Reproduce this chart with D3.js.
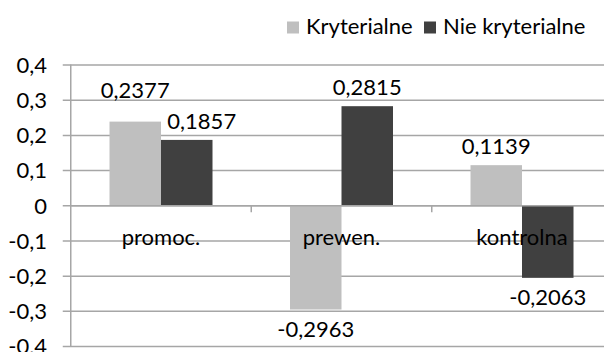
<!DOCTYPE html>
<html>
<head>
<meta charset="utf-8">
<script src="https://cdn.jsdelivr.net/npm/d3@7"></script>
<style>
  html, body { margin: 0; padding: 0; background: #fff; }
  svg { display: block; font-family: Lato, "Noto Sans", sans-serif; }
</style>
</head>
<body>
<svg id="chart" width="604" height="352"></svg>
<script>
// Groups along the category axis
const categories = ["promoc.", "prewen.", "kontrolna"];
// Series names and values (one value per category)
const seriesNames = ["Kryterialne", "Nie kryterialne"];
const kryterialne = [0.2377, -0.2963, 0.1139];
const nieKryterialne = [0.1857, 0.2815, -0.2063];
const yTicks = [-0.4, -0.3, -0.2, -0.1, 0, 0.1, 0.2, 0.3, 0.4];

const seriesValues = [kryterialne, nieKryterialne];
const colors = ["#bfbfbf", "#404040"];
const gridColor = "#a6a6a6";
const fontSize = 22;

// Hand-placed data labels (pixel nudges from the default outside-end spot)
const labelNudge = [
  [{ dx: 0, dy: -13 }, { dx: 15, dy: 0 }],
  [{ dx: 0, dy: 0 }, { dx: 0, dy: 0 }],
  [{ dx: 0, dy: 0 }, { dx: 0, dy: 0 }]
];

// Polish decimal comma, plain hyphen for negatives
const plain = s => s.replace("\u2212", "-").replace(".", ",");
const fmt = v => (v === 0 ? "0" : plain(d3.format(".4~f")(v)));
const fmtTick = v => (v === 0 ? "0" : plain(d3.format(".1f")(v)));

const svg = d3.select("#chart");
const plot = { left: 70.75, right: 612.25, top: 64.5, bottom: 346 };

const x0 = d3.scaleBand().domain(categories).range([plot.left, plot.right]).padding(0);
const groupWidth = 103;
const x1 = d3.scaleBand().domain(seriesNames).range([0, groupWidth]).padding(0);
const y = d3.scaleLinear().domain([-0.4, 0.4]).range([plot.bottom, plot.top]);

// Horizontal gridlines with short outer ticks
const yAxis = d3.axisLeft(y)
  .tickValues(yTicks)
  .tickSize(0)
  .tickFormat(fmtTick);

const gy = svg.append("g")
  .attr("transform", `translate(${plot.left},0)`)
  .call(yAxis);
gy.select(".domain").remove();
gy.selectAll(".tick line")
  .attr("x1", -8)
  .attr("x2", plot.right - plot.left)
  .attr("stroke", gridColor)
  .attr("stroke-width", 1.5);
gy.selectAll(".tick text")
  .attr("x", 47 - plot.left)
  .attr("dy", "0.36em")
  .attr("text-anchor", "end")
  .attr("fill", "#000")
  .style("font-size", fontSize + "px")
  .style("font-family", "Lato, 'Noto Sans', sans-serif");

// Vertical value axis line
svg.append("line")
  .attr("x1", plot.left).attr("x2", plot.left)
  .attr("y1", plot.top).attr("y2", plot.bottom)
  .attr("stroke", gridColor).attr("stroke-width", 1.5);

// Bars
const groups = svg.append("g").selectAll("g")
  .data(categories)
  .join("g")
  .attr("transform", c => `translate(${x0(c) + (x0.bandwidth() - groupWidth) / 2},0)`);

groups.selectAll("rect")
  .data((c, i) => seriesNames.map((s, j) => ({ s, j, v: seriesValues[j][i] })))
  .join("rect")
  .attr("x", d => x1(d.s))
  .attr("width", x1.bandwidth())
  .attr("y", d => y(Math.max(0, d.v)))
  .attr("height", d => Math.abs(y(d.v) - y(0)))
  .attr("fill", d => colors[d.j]);

// Category axis at zero with tick marks between groups
const xAxis = d3.axisBottom(x0).tickSize(0).tickFormat("");
const gx = svg.append("g").attr("transform", `translate(0,${y(0)})`).call(xAxis);
gx.select(".domain").attr("stroke", gridColor).attr("stroke-width", 1.5);
const boundaries = categories.map(c => x0(c)).concat([plot.right]);
gx.selectAll(".sep")
  .data(boundaries.slice(1))
  .join("line")
  .attr("class", "sep")
  .attr("x1", d => d).attr("x2", d => d)
  .attr("y1", 0).attr("y2", 7)
  .attr("stroke", gridColor).attr("stroke-width", 1.5);

// Category labels
svg.append("g").selectAll("text")
  .data(categories)
  .join("text")
  .attr("x", c => x0(c) + x0.bandwidth() / 2)
  .attr("y", y(0) + 40)
  .attr("text-anchor", "middle")
  .attr("fill", "#000")
  .style("font-size", fontSize + "px")
  .text(c => c);

// Data labels
const labels = [];
categories.forEach((c, i) => {
  seriesNames.forEach((s, j) => {
    const v = seriesValues[j][i];
    const cx = x0(c) + (x0.bandwidth() - groupWidth) / 2 + x1(s) + x1.bandwidth() / 2;
    const base = v >= 0 ? y(v) - 11 : y(v) + 27;
    const n = labelNudge[i][j];
    labels.push({ x: cx + n.dx, y: base + n.dy, v });
  });
});
svg.append("g").selectAll("text")
  .data(labels)
  .join("text")
  .attr("x", d => d.x)
  .attr("y", d => d.y)
  .attr("text-anchor", "middle")
  .attr("fill", "#000")
  .style("font-size", fontSize + "px")
  .text(d => fmt(d.v));

// Legend
const legendItems = [
  { name: seriesNames[0], color: colors[0], x: 287 },
  { name: seriesNames[1], color: colors[1], x: 424 }
];
const lg = svg.append("g").selectAll("g")
  .data(legendItems)
  .join("g")
  .attr("transform", d => `translate(${d.x},0)`);
lg.append("rect")
  .attr("x", 0).attr("y", 21.5)
  .attr("width", 12).attr("height", 12)
  .attr("fill", d => d.color);
lg.append("text")
  .attr("x", 19).attr("y", 33.5)
  .attr("fill", "#000")
  .style("font-size", fontSize + "px")
  .text(d => d.name);
</script>
</body>
</html>
